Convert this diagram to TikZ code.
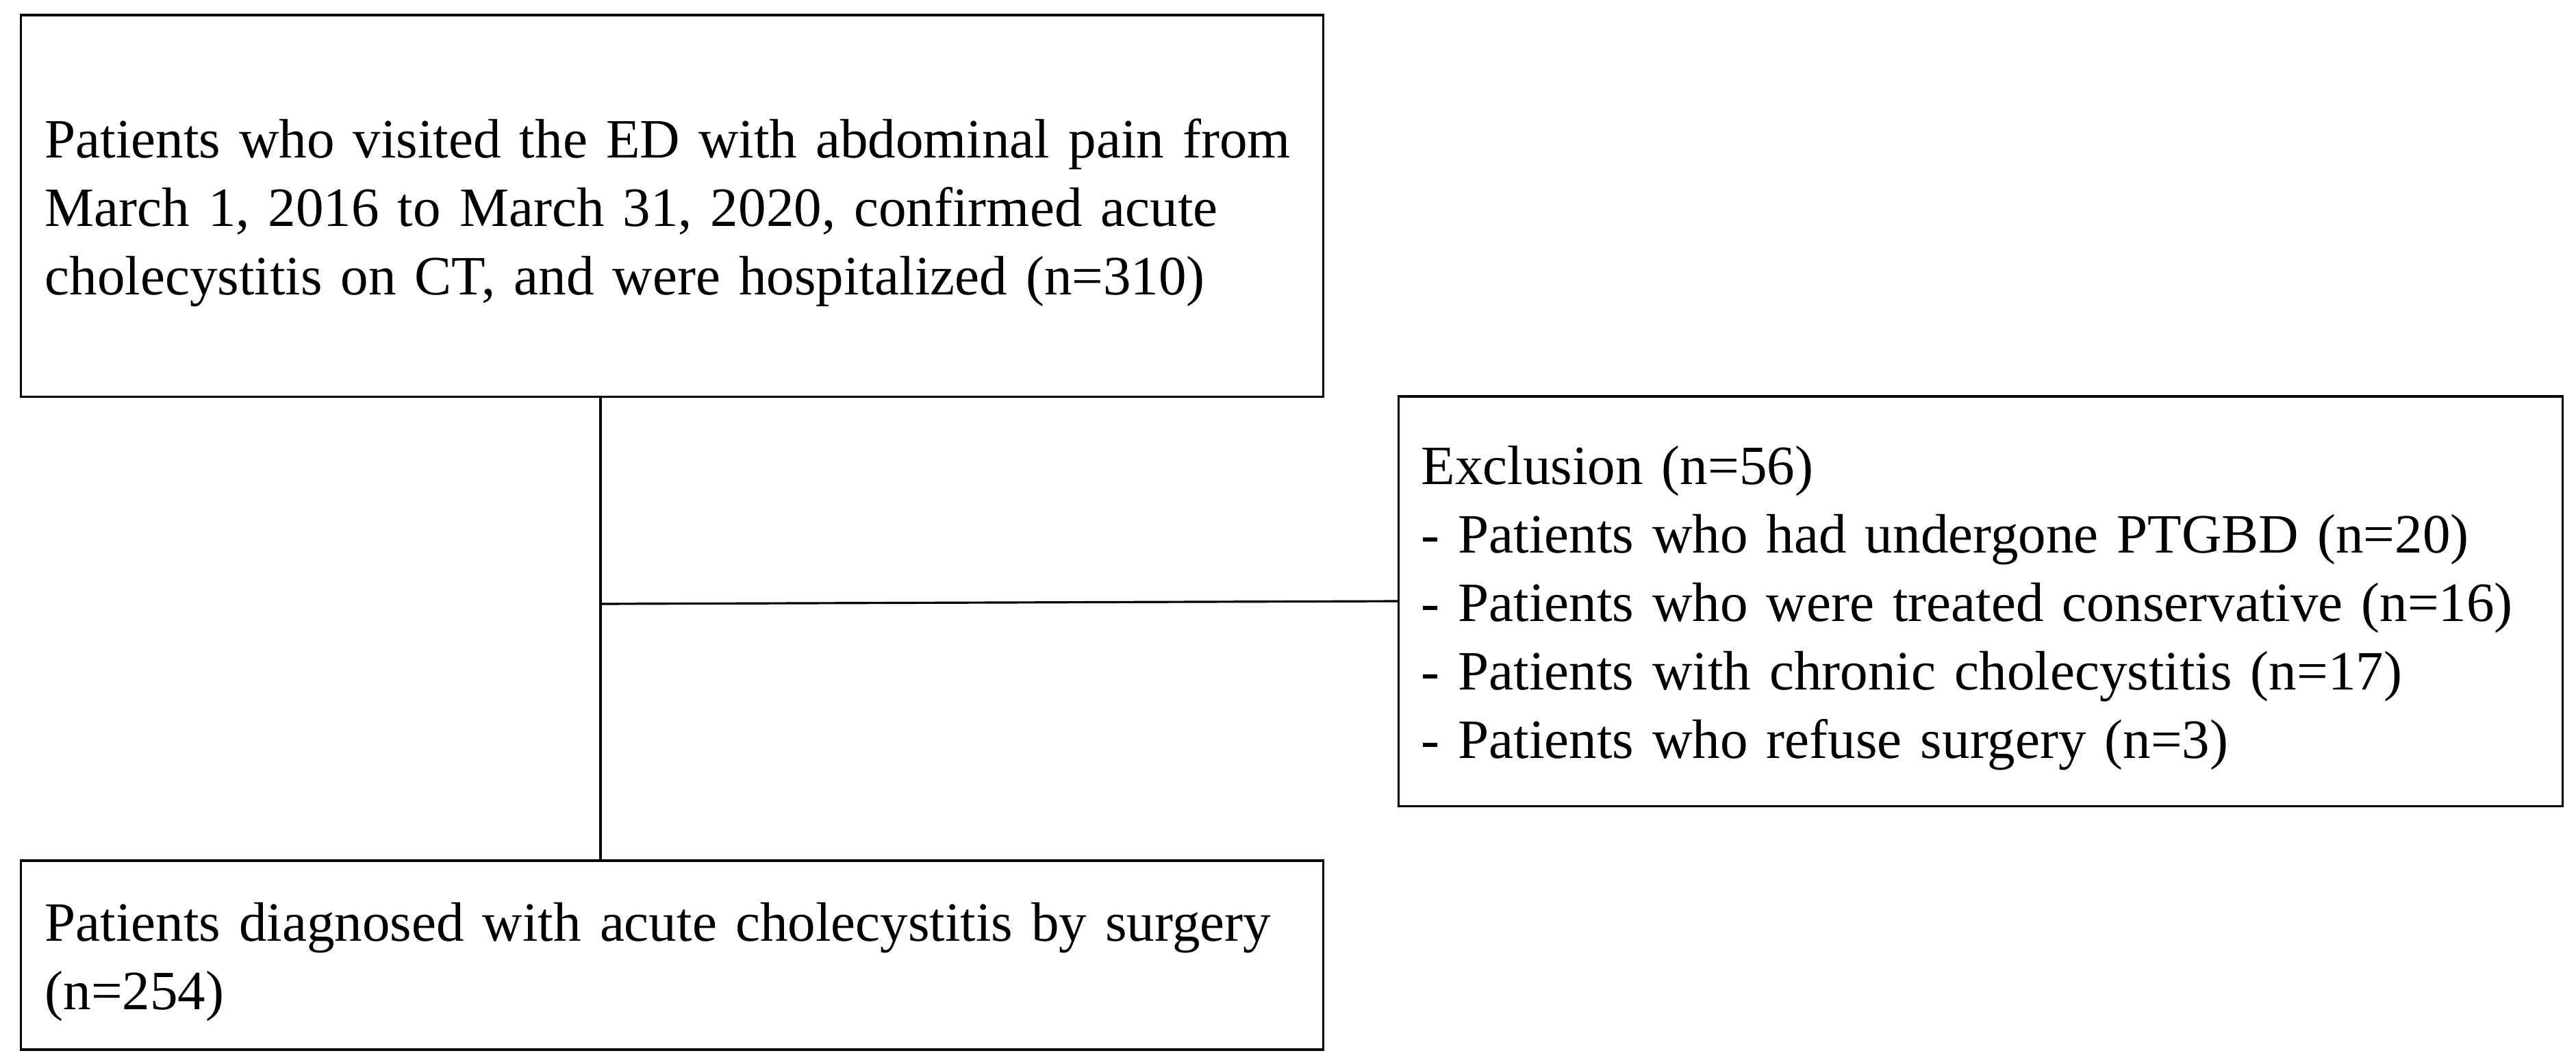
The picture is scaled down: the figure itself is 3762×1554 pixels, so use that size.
\documentclass[tikz,border=0pt]{standalone}
\usepackage{fontspec}
\setmainfont{Liberation Serif}
\begin{document}
\begin{tikzpicture}[x=0.01cm,y=-0.01cm,
  box/.style={draw, line width=0.95pt, inner sep=0pt},
  txt/.style={inner sep=0pt, align=left, anchor=west, text width=16cm,
    font=\fontsize{23.05}{28.4}\selectfont},
  conn/.style={draw, line width=0.9pt}]
\useasboundingbox (0,0) rectangle (3762,1554);
\node[box, minimum width=19.01cm, minimum height=5.57cm] (b1) at (981.5,300.5) {};
\node[box, minimum width=16.99cm, minimum height=5.98cm] (ex) at (2892.5,878) {};
\node[box, minimum width=19.01cm, minimum height=2.76cm] (b3) at (981.5,1395) {};
\node[txt] (t1) at ([xshift=0.36cm,yshift=-0.1cm]b1.west)
  {\mbox{Patients who visited the ED with abdominal pain from}\\
   \mbox{March 1, 2016 to March 31, 2020, confirmed acute}\\
   \mbox{cholecystitis on CT, and were hospitalized (n=310)}};
\node[txt] (tx) at ([xshift=0.34cm,yshift=-0.1cm]ex.west)
  {\mbox{Exclusion (n=56)}\\
   \mbox{- Patients who had undergone PTGBD (n=20)}\\
   \mbox{- Patients who were treated conservative (n=16)}\\
   \mbox{- Patients with chronic cholecystitis (n=17)}\\
   \mbox{- Patients who refuse surgery (n=3)}};
\node[txt] (t3) at ([xshift=0.36cm,yshift=-0.1cm]b3.west)
  {\mbox{Patients diagnosed with acute cholecystitis by surgery}\\
   \mbox{(n=254)}};
\coordinate (vx) at (877,0);
\coordinate (j) at (877,882);
\draw[conn] (vx |- b1.south) -- (vx |- b3.north);
\draw[conn] (j) -- (ex.west);
\end{tikzpicture}
\end{document}
